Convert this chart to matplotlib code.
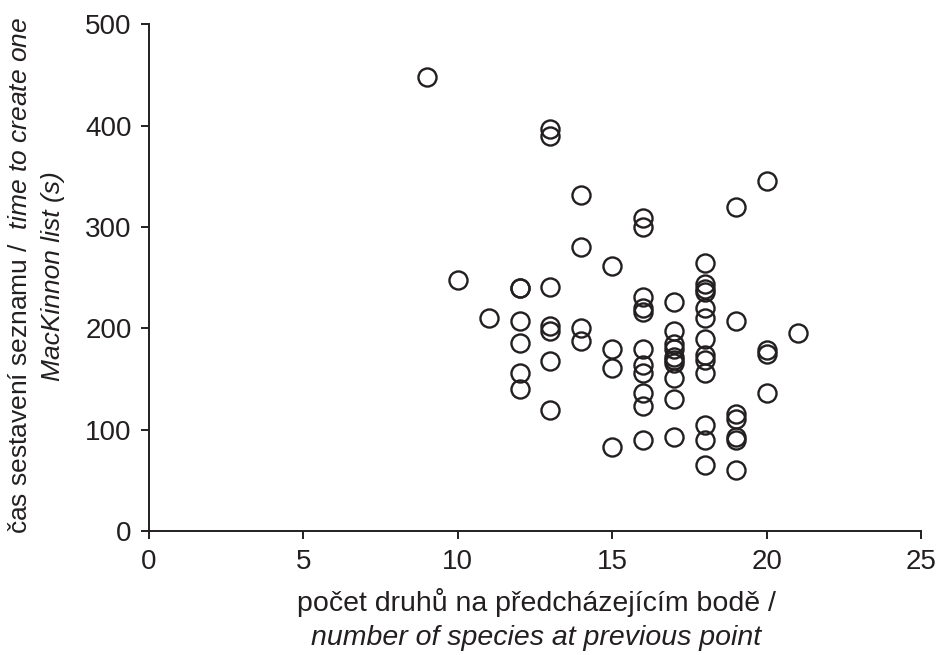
import matplotlib
matplotlib.use('Agg')
import matplotlib.pyplot as plt

plt.rcParams['font.family'] = ['Liberation Sans', 'DejaVu Sans']
plt.rcParams['mathtext.fontset'] = 'custom'
plt.rcParams['mathtext.rm'] = 'Liberation Sans'
plt.rcParams['mathtext.it'] = 'Liberation Sans:italic'

INK = '#231f20'

# species at previous point (x) and time per list in seconds (y)
species = ([9] + [10] + [11]
           + [12] * 6 + [13] * 7 + [14] * 4 + [15] * 4
           + [16] * 11 + [17] * 10 + [18] * 13 + [19] * 7
           + [20] * 4 + [21])
times = ([448] + [248] + [210]
         + [240, 240, 207, 186, 156, 140]
         + [397, 390, 241, 202, 197, 168, 120]
         + [332, 280, 200, 188]
         + [262, 180, 161, 83]
         + [309, 300, 231, 220, 216, 180, 164, 156, 136, 123, 90]
         + [226, 197, 185, 180, 172, 169, 166, 151, 130, 93]
         + [265, 244, 239, 236, 220, 210, 190, 174, 169, 156, 105, 90, 65]
         + [320, 207, 116, 111, 93, 90, 60]
         + [345, 179, 175, 136]
         + [195])

xticks = [0, 5, 10, 15, 20, 25]
yticks = [0, 100, 200, 300, 400, 500]

fig = plt.figure(figsize=(9.37, 6.55), dpi=100)
ax = fig.add_axes([0.159, 0.189, 0.824, 0.774])

ax.plot(species, times, linestyle='none', marker='o', markersize=13,
        markerfacecolor='none', markeredgecolor=INK, markeredgewidth=1.7,
        clip_on=False)

ax.set_xlim(0, 25)
ax.set_ylim(0, 500)
ax.set_xticks(xticks)
ax.set_yticks(yticks)

for side in ['top', 'right']:
    ax.spines[side].set_visible(False)
for side in ['left', 'bottom']:
    ax.spines[side].set_linewidth(1.4)
    ax.spines[side].set_color(INK)

ax.tick_params(direction='out', length=5.5, width=1.4, colors=INK,
               labelsize=20, labelcolor=INK)
ax.tick_params(axis='y', pad=7)
ax.tick_params(axis='x', pad=7)

# axis titles, Czech upright and English in italics
fig.text(0.572, 0.067, 'počet druhů na předcházejícím bodě /',
         fontsize=20.5, color=INK, ha='center', va='baseline')
fig.text(0.572, 0.015, 'number of species at previous point',
         fontsize=20.5, color=INK, ha='center', va='baseline', style='italic')
fig.text(0.021, 0.579, 'čas sestavení seznamu /  '
         r'$\mathit{time\ to\ create\ one}$',
         fontsize=19, color=INK, ha='center', va='center', rotation=90)
fig.text(0.057, 0.579, 'MacKinnon list (s)',
         fontsize=19, color=INK, ha='center', va='center', rotation=90,
         style='italic')

fig.savefig('out.png', dpi=100)
